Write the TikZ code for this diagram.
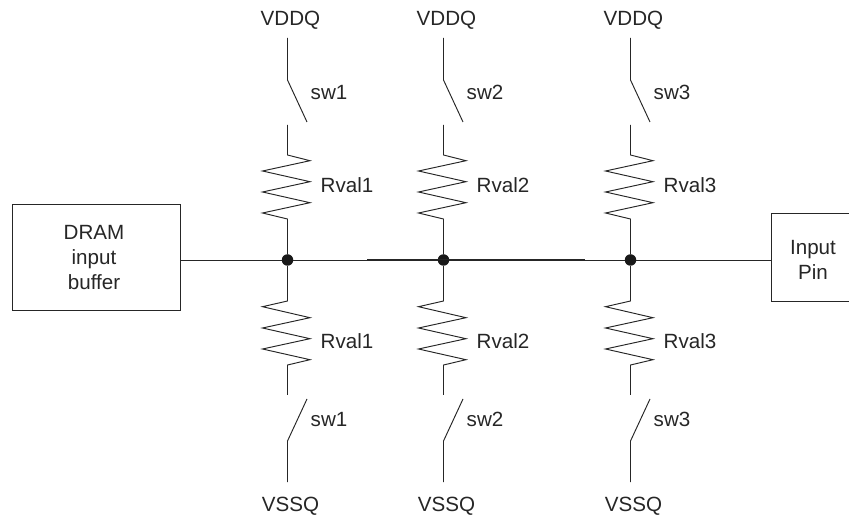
\documentclass[tikz,border=0pt]{standalone}
\usepackage{fontspec}
\setmainfont{Liberation Sans}
\tikzset{
  wire/.style={draw=black!85,line width=0.95pt,line join=miter},
  lbl/.style={inner sep=0pt,text=black!85,font=\fontsize{20.6}{25}\selectfont,align=center},
  boxn/.style={draw=black!85,line width=0.95pt,inner sep=0pt},
  dot/.style={circle,fill=black!90,inner sep=0pt,minimum size=11.5pt}
}
\begin{document}
\begin{tikzpicture}[x=1pt,y=-1pt]
\useasboundingbox (0,0) rectangle (849,518);
\node[boxn,minimum width=168pt,minimum height=106.5pt] (buf) at (96.5,257.5) {};
\node[lbl,anchor=base] (buftxt1) at (94,240) {DRAM};
\node[lbl,anchor=base] (buftxt2) at (94,265) {input};
\node[lbl,anchor=base] (buftxt3) at (94,290) {buffer};
\node[boxn,minimum width=82pt,minimum height=87.5pt] (pin) at (812.5,257.5) {};
\node[lbl,anchor=base] (pintxt1) at (813,255) {Input};
\node[lbl,anchor=base] (pintxt2) at (813,279.5) {Pin};
\foreach \n/\x in {1/287.5,2/443.5,3/630.5}{
  \node[dot] (j\n) at (\x,260) {};
  \coordinate (vt\n) at (\x,38);
  \coordinate (vb\n) at (\x,482);
  \node[lbl,anchor=base] (vddq\n) at (\x+3,25.7) {VDDQ};
  \node[lbl,anchor=base] (vssq\n) at (\x+3,511.7) {VSSQ};
  \node[lbl,anchor=base west] (swt\n) at (\x+23,100) {sw\n};
  \node[lbl,anchor=base west] (swb\n) at (\x+23,426.5) {sw\n};
  \node[lbl,anchor=base west] (rt\n) at (\x+33,193) {Rval\n};
  \node[lbl,anchor=base west] (rb\n) at (\x+33,349) {Rval\n};
  \draw[wire] (vt\n) -- (\x,80) -- (\x+19.5,122);
  \draw[wire] (\x,125) -- (\x,155) -- (\x+22.5,160.7) -- (\x-25,171) -- (\x+22.5,181.7) -- (\x-25,192) -- (\x+22.5,202.7) -- (\x-25,213) -- (\x,219) -- (j\n);
  \draw[wire] (j\n) -- (\x,301) -- (\x-25,306.7) -- (\x+22.5,317.7) -- (\x-25,328) -- (\x+22.5,338.7) -- (\x-25,349) -- (\x+22.5,359.7) -- (\x,365) -- (\x,395);
  \draw[wire] (vb\n) -- (\x,441) -- (\x+19.5,399);
}
\draw[wire] (buf.east |- j1) -- (j1) -- (j2) -- (j3) -- (pin.west |- j3);
\coordinate (busa) at (367,259.8);
\coordinate (busb) at (585,259.8);
\draw[wire,line width=0.6pt] (busa) -- (busb);
\end{tikzpicture}
\end{document}
